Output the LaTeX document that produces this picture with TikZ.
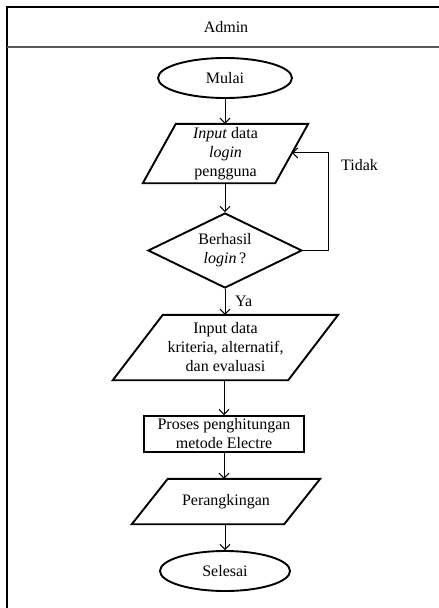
\documentclass[tikz,border=0pt]{standalone}
\usepackage{fontspec}
\setmainfont{Liberation Serif}
\usetikzlibrary{shapes.geometric,arrows.meta,calc}
\begin{document}
\begin{tikzpicture}[x=1pt,y=-1pt,
  every node/.style={font=\fontsize{16}{19}\selectfont, align=center},
  shapeline/.style={draw=black, line width=1.9pt},
  term/.style={shapeline, ellipse, inner sep=0pt},
  procbox/.style={shapeline, rectangle, inner sep=0pt},
  decbox/.style={shapeline, diamond, aspect=2, inner sep=0pt},
  iobox/.style={rectangle, inner sep=0pt},
  conn/.style={draw=black, line width=1pt, -{Straight Barb[length=5pt,width=10pt]}},
  lbl/.style={inner sep=0pt, anchor=west}]
\useasboundingbox (0,0) rectangle (439,608);
\begin{scope}
\clip (0,0) rectangle (439,608);
\draw[line width=1.6pt] (7,7) rectangle (460,630);
\draw[line width=2.2pt, draw=black!65] (7,47) -- (460,47);
\end{scope}
\node (hdr) at (226,27) {Admin};

\node[term, minimum width=134pt, minimum height=40pt] (start) at (225,78) {Mulai};

% parallelogram 1
\node[iobox, minimum width=165pt, minimum height=59pt] (in1) at (225.5,153.5) {\textit{Input} data\\\textit{login}\\pengguna};
\draw[shapeline] ($(in1.north west)+(33,0)$) -- (in1.north east) -- ($(in1.south east)-(33,0)$) -- (in1.south west) -- cycle;
\coordinate (in1r) at ($(in1.north east)!0.49!($(in1.south east)-(33,0)$)$);

\node[decbox, minimum width=154pt, minimum height=75pt] (dec) at (225,250.5) {Berhasil\\\textit{login}\,?};

% parallelogram 2
\node[iobox, minimum width=225pt, minimum height=65pt] (in2) at (225.5,347.5) {Input data\\kriteria, alternatif,\\dan evaluasi};
\draw[shapeline] ($(in2.north west)+(50,0)$) -- (in2.north east) -- ($(in2.south east)-(50,0)$) -- (in2.south west) -- cycle;

\node[procbox, minimum width=160pt, minimum height=36pt] (proc) at (224,434) {Proses penghitungan\\metode Electre};

% parallelogram 3
\node[iobox, minimum width=188pt, minimum height=45pt] (out) at (226,501.5) {Perangkingan};
\draw[shapeline] ($(out.north west)+(36,0)$) -- (out.north east) -- ($(out.south east)-(36,0)$) -- (out.south west) -- cycle;

\node[term, minimum width=130pt, minimum height=40pt] (stop) at (225,571) {Selesai};

\draw[conn] (start.south) -- (start.south |- in1.north);
\draw[conn] (in1.south -| dec.north) -- (dec.north);
\draw[conn] (dec.east) -- ++(26,0) |- (in1r);
\draw[conn] (dec.south) -- (dec.south |- in2.north);
\draw[conn] (in2.south -| proc.north) -- (proc.north);
\draw[conn] (proc.south) -- (proc.south |- out.north);
\draw[conn] (out.south -| stop.north) -- (stop.north);

\node[lbl] (tidak) at (341,165) {Tidak};
\node[lbl] (ya) at (235,301) {Ya};
\end{tikzpicture}
\end{document}
